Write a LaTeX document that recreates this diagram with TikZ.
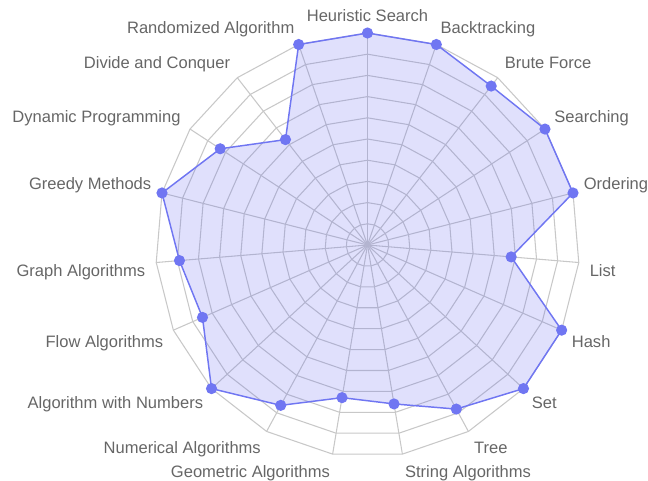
\documentclass[tikz,border=0pt]{standalone}
\usepackage{fontspec}
\setmainfont{Liberation Sans}
\definecolor{gridgray}{RGB}{200,200,200}
\definecolor{serieblue}{RGB}{112,118,242}
\definecolor{seriefill}{RGB}{99,102,241}
\definecolor{labelgray}{RGB}{102,102,102}
\begin{document}
\begin{tikzpicture}[x=0.75pt,y=0.75pt,
    gridline/.style={draw=gridgray,line width=0.8pt},
    serieline/.style={draw=serieblue,line width=1.1pt,line join=round},
    seriearea/.style={fill=seriefill,fill opacity=0.2},
    dot/.style={circle,fill=serieblue,inner sep=0pt,minimum size=8.4pt},
    axislabel/.style={font=\fontsize{12.4pt}{14pt}\selectfont,text=labelgray,
                      inner sep=0.6pt,text height=9pt,text depth=0pt}]
  \useasboundingbox (-367.5,-235) rectangle (280.5,245);
  \def\R{212}
  \def\stepang{18.947368}
  % concentric grid polygons
  \foreach \k in {1,...,10}
    \draw[gridline] (90:\k*21.2)
      \foreach \i in {1,...,18}{ -- ({90-\i*\stepang}:\k*21.2)} -- cycle;
  % spokes
  \foreach \i in {0,...,18}
    \draw[gridline] (0,0) -- ({90-\i*\stepang}:\R);
  % data points (values in percent of the outer radius)
  \foreach \v [count=\i from 0] in {100,100,95,100,100,68,100,100,88,76,73,86,100,85,89,100,83,63,100}
    \coordinate (p\i) at ({90-\i*\stepang}:{\v*2.12});
  \fill[seriearea] (p0) \foreach \i in {1,...,18}{ -- (p\i)} -- cycle;
  \draw[serieline] (p0) \foreach \i in {1,...,18}{ -- (p\i)} -- cycle;
  \foreach \i in {0,...,18}
    \node[dot] (d\i) at (p\i) {};
  % axis labels
  \foreach \lab/\anc [count=\i from 0] in {
      Heuristic Search/south, Backtracking/south west, Brute Force/south west,
      Searching/south west, Ordering/south west, List/north west, Hash/north west,
      Set/north west, Tree/north west, String Algorithms/north west,
      Geometric Algorithms/north east, Numerical Algorithms/north east,
      Algorithm with Numbers/north east, Flow Algorithms/north east,
      Graph Algorithms/north east, Greedy Methods/south east,
      Dynamic Programming/south east, Divide and Conquer/south east,
      Randomized Algorithm/south east}
    \node[axislabel,anchor=\anc] (l\i) at ({90-\i*\stepang}:222) {\lab};
\end{tikzpicture}
\end{document}
